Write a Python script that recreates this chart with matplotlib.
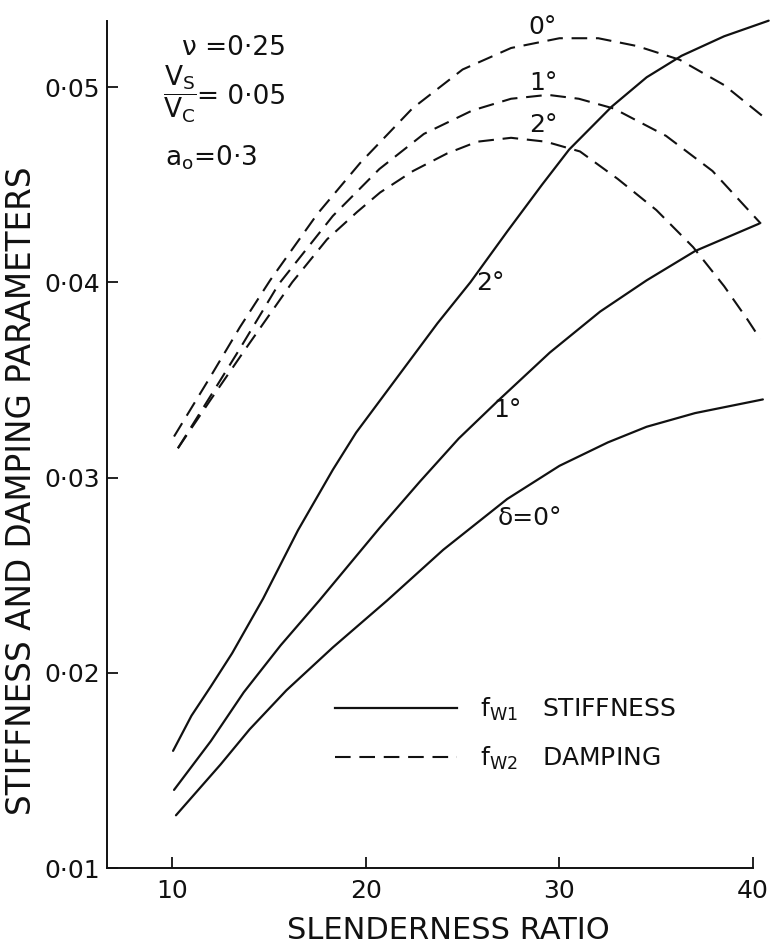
import matplotlib.pyplot as plt
from matplotlib.lines import Line2D

plt.rcParams['font.family'] = ['DejaVu Sans']
plt.rcParams['mathtext.fontset'] = 'dejavusans'

# f_W1 stiffness curves (solid), one per inclination delta
SR_STIFF_0 = [10.2, 12.5, 14.0, 15.9, 18.3, 21.1, 24.0, 27.3, 30.0, 32.5, 34.5, 37.0, 39.0, 40.5]
FW1_0 = [0.0127, 0.0153, 0.0171, 0.0191, 0.0213, 0.0237, 0.0263, 0.0289, 0.0306, 0.0318,
         0.0326, 0.0333, 0.0337, 0.0340]

SR_STIFF_1 = [10.1, 12.0, 13.7, 15.6, 17.6, 20.7, 22.8, 24.8, 26.9, 29.5, 32.1, 34.5, 37.0, 40.3]
FW1_1 = [0.0140, 0.0165, 0.0190, 0.0214, 0.0237, 0.0274, 0.0298, 0.0320, 0.0340, 0.0364,
         0.0385, 0.0401, 0.0416, 0.0430]

SR_STIFF_2 = [10.05, 11.0, 12.0, 13.1, 14.7, 16.5, 18.3, 19.5, 21.75, 23.7, 25.4, 27.3, 29.1,
              30.5, 32.7, 34.5, 36.3, 38.5, 40.8]
FW1_2 = [0.0160, 0.0178, 0.0193, 0.0210, 0.0238, 0.0273, 0.0304, 0.0323, 0.0353, 0.0379,
         0.0400, 0.0426, 0.0450, 0.0468, 0.0490, 0.0505, 0.0516, 0.0526, 0.0534]

# f_W2 damping curves (dashed)
SR_DAMP_0 = [10.1, 12.0, 13.5, 15.06, 17.5, 19.7, 22.4, 25.0, 27.5, 30.0, 32.0, 34.0, 36.2,
             38.5, 40.5]
FW2_0 = [0.0321, 0.0352, 0.0377, 0.0401, 0.0435, 0.0461, 0.0489, 0.0509, 0.0520, 0.0525,
         0.0525, 0.0521, 0.0514, 0.0501, 0.0485]

SR_DAMP_1 = [10.3, 12.0, 13.5, 15.5, 18.3, 20.7, 23.0, 25.5, 27.5, 29.4, 31.0, 32.8, 35.5,
             37.9, 40.4]
FW2_1 = [0.0315, 0.0342, 0.0366, 0.0399, 0.0434, 0.0458, 0.0476, 0.0488, 0.0494, 0.0496,
         0.0494, 0.0489, 0.0475, 0.0457, 0.0430]

SR_DAMP_2 = [10.3, 12.0, 13.8, 16.2, 18.0, 19.55, 20.74, 22.44, 24.2, 25.75, 27.5, 29.3,
             31.06, 33.0, 35.0, 36.9, 38.5, 39.7, 40.36]
FW2_2 = [0.0315, 0.0340, 0.0366, 0.0400, 0.0422, 0.0436, 0.0446, 0.0457, 0.0466, 0.0472,
         0.0474, 0.0472, 0.0467, 0.0453, 0.0437, 0.0418, 0.0398, 0.0381, 0.0371]

XTICKS = [10, 20, 30, 40]
XTICK_LABELS = ['10', '20', '30', '40']
YTICKS = [0.01, 0.02, 0.03, 0.04, 0.05]
YTICK_LABELS = ['0·01', '0·02', '0·03', '0·04', '0·05']

INK = '#111111'
DASH = (7.5, 4.2)

fig = plt.figure(figsize=(7.71, 9.44), dpi=100)
ax = fig.add_axes([0.1388, 0.0805, 0.8607, 0.8972])

for x, y in [(SR_STIFF_0, FW1_0), (SR_STIFF_1, FW1_1), (SR_STIFF_2, FW1_2)]:
    ax.plot(x, y, color=INK, lw=1.6, solid_capstyle='round', solid_joinstyle='round',
            clip_on=False)
for x, y in [(SR_DAMP_0, FW2_0), (SR_DAMP_1, FW2_1), (SR_DAMP_2, FW2_2)]:
    ax.plot(x, y, color=INK, lw=1.5, dashes=DASH, clip_on=False)

ax.set_xlim(6.64, 40.9)
ax.set_ylim(0.01, 0.05338)
ax.spines['top'].set_visible(False)
ax.spines['right'].set_visible(False)
ax.spines['bottom'].set_bounds(6.64, 40)
for s in ('left', 'bottom'):
    ax.spines[s].set_linewidth(1.4)
    ax.spines[s].set_color(INK)

ax.set_xticks(XTICKS)
ax.set_xticklabels(XTICK_LABELS)
ax.set_yticks(YTICKS)
ax.set_yticklabels(YTICK_LABELS)
ax.tick_params(axis='both', direction='in', length=8, width=1.3, color=INK,
               labelsize=18, labelcolor=INK)
ax.tick_params(axis='x', pad=8)
ax.tick_params(axis='y', pad=5)

ax.set_xlabel('SLENDERNESS RATIO', fontsize=22, color=INK, va='top')
ax.xaxis.set_label_coords(0.514, -0.057)
ax.set_ylabel('STIFFNESS AND DAMPING PARAMETERS', fontsize=23.5, color=INK, va='center')
ax.yaxis.set_label_coords(-0.1296, 0.445)

# curve labels
lab = dict(fontsize=18, color=INK, ha='center', va='center')
ax.text(29.15, 0.0531, '0°', **lab)
ax.text(29.15, 0.0502, '1°', **lab)
ax.text(29.15, 0.04805, '2°', **lab)
ax.text(26.42, 0.03996, '2°', **lab)
ax.text(27.3, 0.03346, '1°', **lab)
ax.text(28.48, 0.02793, 'δ=0°', **lab)

# parameters
par = dict(fontsize=19, color=INK, ha='left', va='center')
ax.text(10.5, 0.0520, 'ν =0·25', **par)
ax.text(9.55, 0.0496, r'$\dfrac{\mathsf{V_S}}{\mathsf{V_C}}$', **par)
ax.text(11.3, 0.0495, '= 0·05', **par)
ax.text(9.64, 0.0464, r'$\mathsf{a_o}$=0·3', **par)

handles = [Line2D([], [], color=INK, lw=1.6),
           Line2D([], [], color=INK, lw=1.5, dashes=DASH)]
labels = [r'$\mathsf{f_{W1}}$   STIFFNESS', r'$\mathsf{f_{W2}}$   DAMPING']
ax.legend(handles, labels, loc='upper left', bbox_to_anchor=(0.343, 0.203),
          frameon=False, fontsize=18, handlelength=4.9, handletextpad=0.9,
          labelspacing=0.85, borderpad=0, borderaxespad=0, labelcolor=INK)

fig.savefig('out.png', dpi=100, facecolor='white')
